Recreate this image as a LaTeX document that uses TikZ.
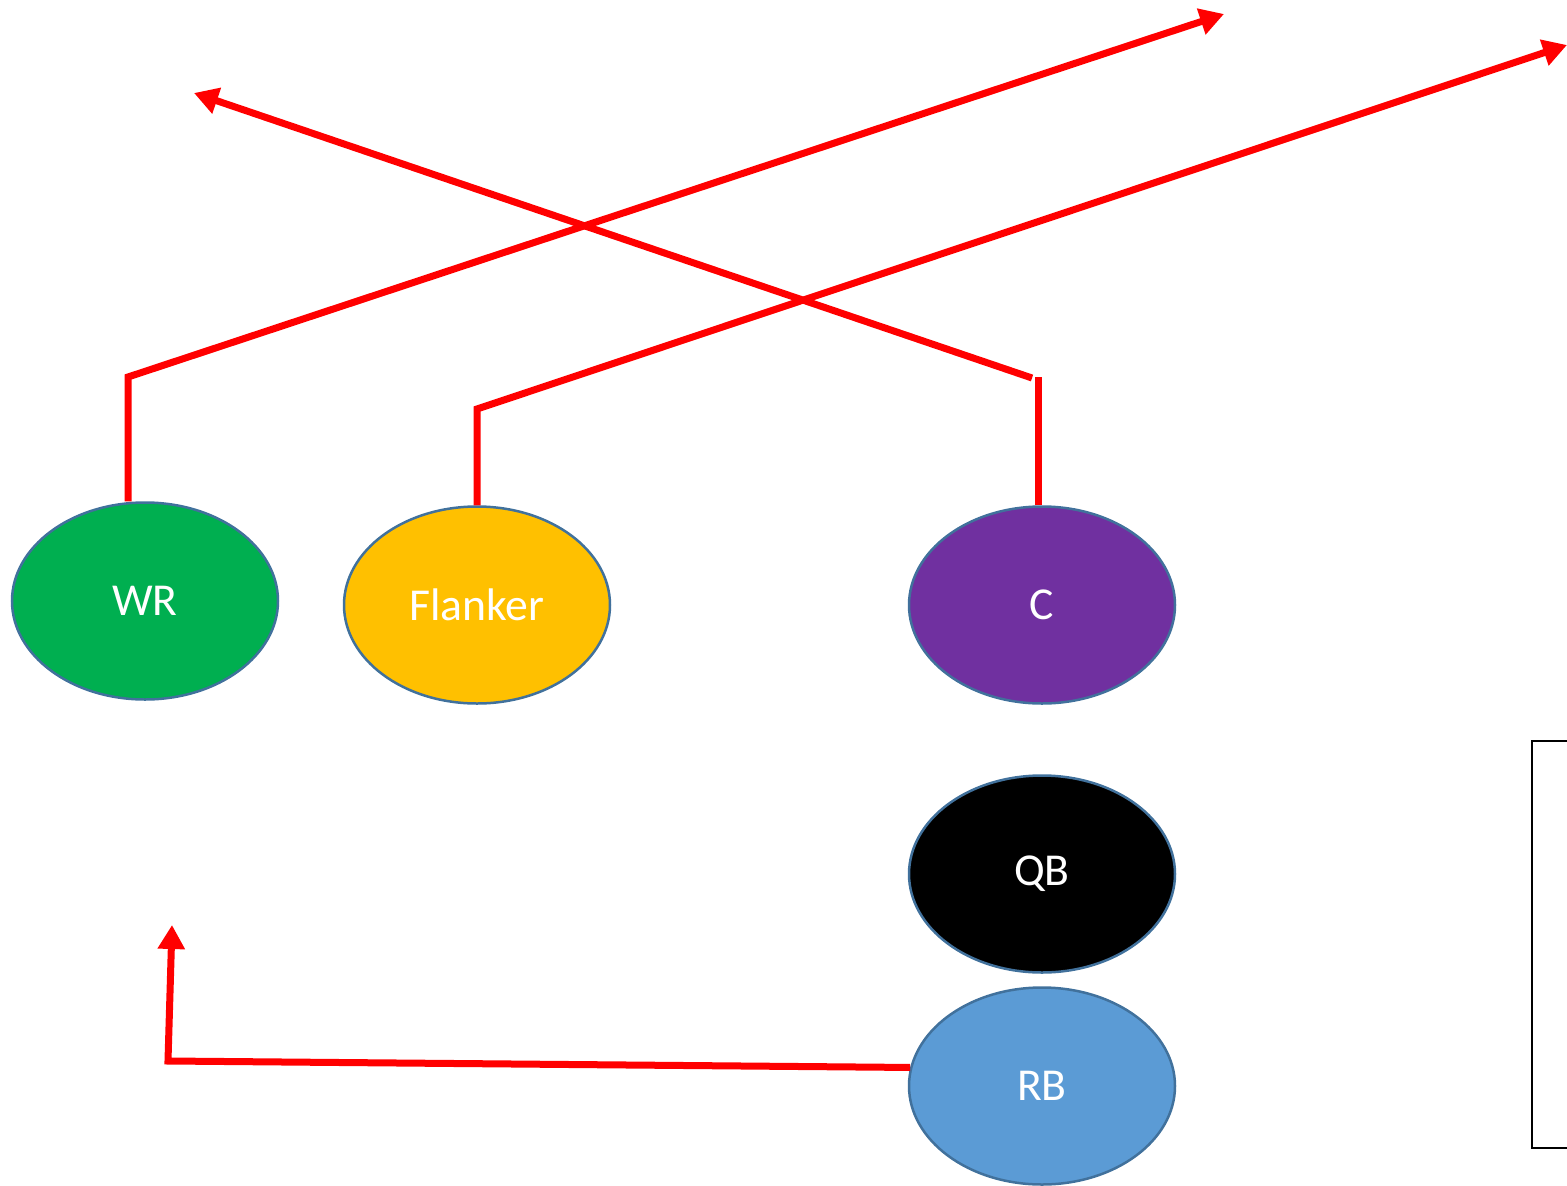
\documentclass[tikz,border=0pt]{standalone}
\usepackage{xcolor}
\usepackage{fontspec}
\setmainfont{Carlito}
\usepackage{tikz}
\usetikzlibrary{arrows.meta, shapes.geometric}

\definecolor{wrgreen}{HTML}{00AF50}
\definecolor{flgold}{HTML}{FFC000}
\definecolor{cpurple}{HTML}{7030A0}
\definecolor{rbblue}{HTML}{5B9BD5}
\definecolor{rim}{HTML}{41719C}

\begin{document}
\begin{tikzpicture}[
    player/.style={ellipse, draw=rim, line width=0.025cm, minimum width=2.66cm, minimum height=1.97cm,
        inner sep=0pt, text=white, font=\fontsize{13}{15}\selectfont},
    route/.style={red, line width=0.07cm},
    routetip/.style={route, -{Triangle[length=0.24cm, width=0.26cm]}}
]
    \useasboundingbox (0, 0) rectangle (15.67, 11.85);
    % players
    \node[player, fill=wrgreen] at (1.45, 5.84) (WR) {WR};
    \node[player, fill=flgold] at (4.77, 5.80) (Flanker) {Flanker};
    \node[player, fill=cpurple] at (10.42, 5.80) (C) {C};
    \node[player, fill=black] at (10.42, 3.11) (QB) {QB};
    \node[player, fill=rbblue] at (10.42, 0.99) (RB) {RB};
    % route bends and ends
    \coordinate (wr1) at (1.28, 8.08); \coordinate (wr2) at (12.24, 11.71);
    \coordinate (fl1) at (4.77, 7.76); \coordinate (fl2) at (15.67, 11.40);
    \coordinate (c1) at (10.38, 8.08);
    \coordinate (c2) at (10.32, 8.07); \coordinate (c3) at (1.94, 10.92);
    \coordinate (rb1) at (1.68, 1.24); \coordinate (rb2) at (1.72, 2.60);
    % routes
    \draw[routetip] (wr1 |- WR.north) -- (wr1) -- (wr2);
    \draw[routetip] (Flanker.north) -- (fl1) -- (fl2);
    \draw[route] (c1 |- C.north) -- (c1);
    \draw[routetip] (c2) -- (c3);
    \draw[routetip] (RB.172) -- (rb1) -- (rb2);
    % bracket
    \draw[line width=0.025cm] (15.67, 4.44) -- (15.32, 4.44) -- (15.32, 0.37) -- (15.67, 0.37);
\end{tikzpicture}
\end{document}
